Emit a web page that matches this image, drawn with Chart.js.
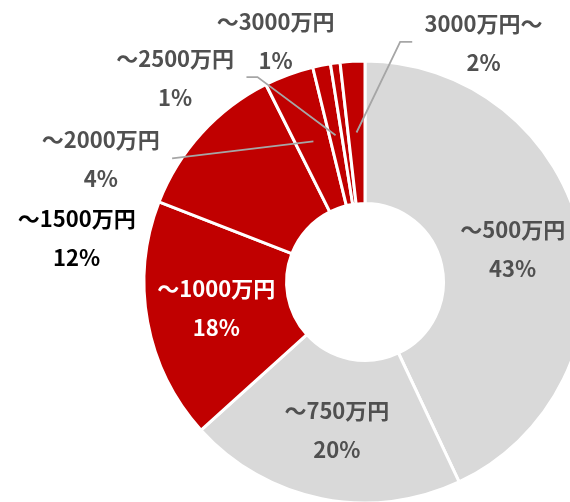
<!DOCTYPE html>
<html lang="ja">
<head>
<meta charset="utf-8">
<script src="https://cdn.jsdelivr.net/npm/chart.js@4.4.1/dist/chart.umd.min.js"></script>
<style>
    html, body { margin: 0; padding: 0; background: #fff; }
    canvas { display: block; }
</style>
</head>
<body>
<canvas id="incomeChart" width="570" height="502"></canvas>
<script>
const categories = ['～500万円', '～750万円', '～1000万円', '～1500万円', '～2000万円', '～2500万円', '～3000万円', '3000万円～'];
const shares = [43.0, 20.3, 17.6, 11.7, 3.6, 1.3, 0.7, 1.8];
const shareLabels = ['43%', '20%', '18%', '12%', '4%', '1%', '1%', '2%'];

const GRAY = '#d9d9d9';
const RED = '#c00000';
const TEXT = '#505050';
const sliceColors = [GRAY, GRAY, RED, RED, RED, RED, RED, RED];
const labelColors = [TEXT, TEXT, '#ffffff', '#000000', TEXT, TEXT, TEXT, TEXT];

// label block centres, offset from the pie centre (px at a 220px radius)
const labelSpots = [[147, -32], [-28, 148], [-148, 27], [-287, -43], [-263, -122], [-189, -202], [-89, -239], [118, -237]];
// leader lines: bend/end points after the slice midpoint
const leaders = {
    4: [[-192, -123]],
    5: [[-107, -204], [-118, -204]],
    7: [[35, -239], [47, -239]]
};

const sliceLabels = {
    id: 'sliceLabels',
    afterDatasetsDraw(chart) {
        const ctx = chart.ctx;
        const arcs = chart.getDatasetMeta(0).data;
        const cx = arcs[0].x;
        const cy = arcs[0].y;
        const k = arcs[0].outerRadius / 220;

        ctx.save();
        ctx.strokeStyle = '#a6a6a6';
        ctx.lineWidth = 1.8;
        Object.keys(leaders).forEach(i => {
            const mid = arcs[i].tooltipPosition(true);
            ctx.beginPath();
            ctx.moveTo(mid.x, mid.y);
            leaders[i].forEach(p => ctx.lineTo(cx + p[0] * k, cy + p[1] * k));
            ctx.stroke();
        });

        ctx.font = 'bold 22px "Noto Sans CJK JP"';
        ctx.textAlign = 'center';
        ctx.textBaseline = 'middle';
        arcs.forEach((arc, i) => {
            const x = cx + labelSpots[i][0] * k;
            const y = cy + labelSpots[i][1] * k;
            ctx.fillStyle = labelColors[i];
            ctx.fillText(categories[i], x, y - 20);
            ctx.fillText(shareLabels[i], x, y + 19);
        });
        ctx.restore();
    }
};

new Chart(document.getElementById('incomeChart'), {
    type: 'doughnut',
    data: {
        labels: categories,
        datasets: [{
            data: shares,
            backgroundColor: sliceColors,
            borderColor: '#ffffff',
            borderWidth: 3,
            clip: false
        }]
    },
    options: {
        responsive: false,
        animation: false,
        radius: 221,
        cutout: '35.5%',
        layout: { padding: { left: 160, right: 0, top: 62, bottom: 0 } },
        plugins: {
            legend: { display: false },
            tooltip: { enabled: false }
        }
    },
    plugins: [sliceLabels]
});
</script>
</body>
</html>
